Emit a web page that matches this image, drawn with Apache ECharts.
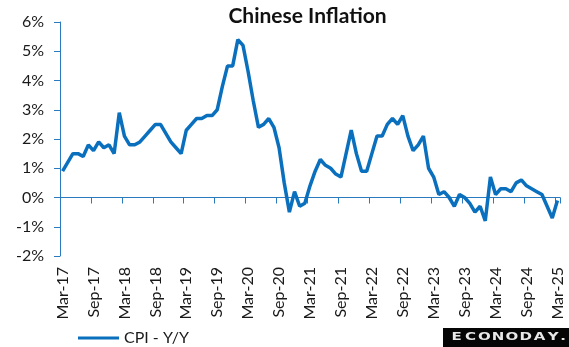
<!DOCTYPE html>
<html>
<head>
<meta charset="utf-8">
<script src="https://cdn.jsdelivr.net/npm/echarts@6/dist/echarts.min.js"></script>
<style>
  html, body { margin: 0; padding: 0; background: #fff; }
  #chart { width: 569px; height: 347px; }
</style>
</head>
<body>
<div id="chart"></div>
<script>
// Monthly CPI, year over year (%), Mar-2017 .. Mar-2025
const months = [
  'Mar-17','Apr-17','May-17','Jun-17','Jul-17','Aug-17','Sep-17','Oct-17','Nov-17','Dec-17',
  'Jan-18','Feb-18','Mar-18','Apr-18','May-18','Jun-18','Jul-18','Aug-18','Sep-18','Oct-18','Nov-18','Dec-18',
  'Jan-19','Feb-19','Mar-19','Apr-19','May-19','Jun-19','Jul-19','Aug-19','Sep-19','Oct-19','Nov-19','Dec-19',
  'Jan-20','Feb-20','Mar-20','Apr-20','May-20','Jun-20','Jul-20','Aug-20','Sep-20','Oct-20','Nov-20','Dec-20',
  'Jan-21','Feb-21','Mar-21','Apr-21','May-21','Jun-21','Jul-21','Aug-21','Sep-21','Oct-21','Nov-21','Dec-21',
  'Jan-22','Feb-22','Mar-22','Apr-22','May-22','Jun-22','Jul-22','Aug-22','Sep-22','Oct-22','Nov-22','Dec-22',
  'Jan-23','Feb-23','Mar-23','Apr-23','May-23','Jun-23','Jul-23','Aug-23','Sep-23','Oct-23','Nov-23','Dec-23',
  'Jan-24','Feb-24','Mar-24','Apr-24','May-24','Jun-24','Jul-24','Aug-24','Sep-24','Oct-24','Nov-24','Dec-24',
  'Jan-25','Feb-25','Mar-25'
];

const cpiYoY = [
  0.9, 1.2, 1.5, 1.5, 1.4, 1.8, 1.6, 1.9, 1.7, 1.8,
  1.5, 2.9, 2.1, 1.8, 1.8, 1.9, 2.1, 2.3, 2.5, 2.5, 2.2, 1.9,
  1.7, 1.5, 2.3, 2.5, 2.7, 2.7, 2.8, 2.8, 3.0, 3.8, 4.5, 4.5,
  5.4, 5.2, 4.3, 3.3, 2.4, 2.5, 2.7, 2.4, 1.7, 0.5, -0.5, 0.2,
  -0.3, -0.2, 0.4, 0.9, 1.3, 1.1, 1.0, 0.8, 0.7, 1.5, 2.3, 1.5,
  0.9, 0.9, 1.5, 2.1, 2.1, 2.5, 2.7, 2.5, 2.8, 2.1, 1.6, 1.8,
  2.1, 1.0, 0.7, 0.1, 0.2, 0.0, -0.3, 0.1, 0.0, -0.2, -0.5, -0.3,
  -0.8, 0.7, 0.1, 0.3, 0.3, 0.2, 0.5, 0.6, 0.4, 0.3, 0.2, 0.1,
  -0.3, -0.7, -0.1
];

const seriesName = 'CPI - Y/Y';
const chartTitle = 'Chinese Inflation';
const brand = 'ECONODAY.';

const BLUE = '#0a70be';
const AXIS_BLUE = '#2a7ac0';
const TEXT = '#1a1a1a';
const FONT = 'Lato, "Open Sans", sans-serif';

const chart = echarts.init(document.getElementById('chart'), null, { renderer: 'canvas' });

// brand badge, one glyph at a time so the letters sit widely spaced
const brandGlyphs = brand.split('').map((ch, i) => ({
  type: 'text',
  x: ch === '.' ? 563 : 456.7 + 13.8 * i,
  y: 337.5,
  scaleX: 1.5,
  z: 11,
  style: {
    text: ch,
    fill: '#e8e8e8',
    font: 'bold 10px "DejaVu Sans", sans-serif',
    textAlign: 'center',
    textVerticalAlign: 'middle'
  }
}));

chart.setOption({
  animation: false,
  backgroundColor: '#ffffff',
  grid: {
    left: 60, right: 9, top: 22, bottom: 91,
    containLabel: false,
    outerBoundsMode: 'none'
  },
  legend: {
    data: [seriesName],
    left: 78, top: 330,
    padding: 0,
    icon: 'rect',
    itemWidth: 41, itemHeight: 3,
    textStyle: { fontFamily: FONT, fontSize: 16, color: TEXT }
  },
  xAxis: {
    type: 'category',
    data: months,
    boundaryGap: true,
    axisLine: { onZero: true, lineStyle: { color: AXIS_BLUE, width: 1 } },
    axisTick: { show: true, interval: 5, length: 6, lineStyle: { color: AXIS_BLUE } },
    axisLabel: {
      interval: 5,
      rotate: 90,
      margin: 11,
      fontFamily: FONT,
      fontSize: 16,
      color: TEXT
    },
    splitLine: { show: false }
  },
  yAxis: {
    type: 'value',
    min: -2, max: 6, interval: 1,
    axisLine: { show: true, lineStyle: { color: AXIS_BLUE, width: 1 } },
    axisTick: { show: true, length: 6, lineStyle: { color: AXIS_BLUE } },
    axisLabel: {
      formatter: '{value}%',
      margin: 16,
      fontFamily: FONT,
      fontSize: 16,
      color: TEXT
    },
    splitLine: { show: false }
  },
  series: [{
    name: seriesName,
    type: 'line',
    data: cpiYoY,
    showSymbol: false,
    symbol: 'none',
    color: BLUE,
    lineStyle: { color: BLUE, width: 3.5 }
  }],
  graphic: [
    {
      type: 'text',
      x: 307.5, y: 6,
      style: {
        text: chartTitle,
        fill: '#111',
        font: 'bold 21px ' + FONT,
        textAlign: 'center',
        textVerticalAlign: 'top'
      }
    },
    {
      type: 'rect',
      z: 10,
      shape: { x: 443, y: 328, width: 126, height: 19 },
      style: { fill: '#050505' }
    }
  ].concat(brandGlyphs)
});
</script>
</body>
</html>
